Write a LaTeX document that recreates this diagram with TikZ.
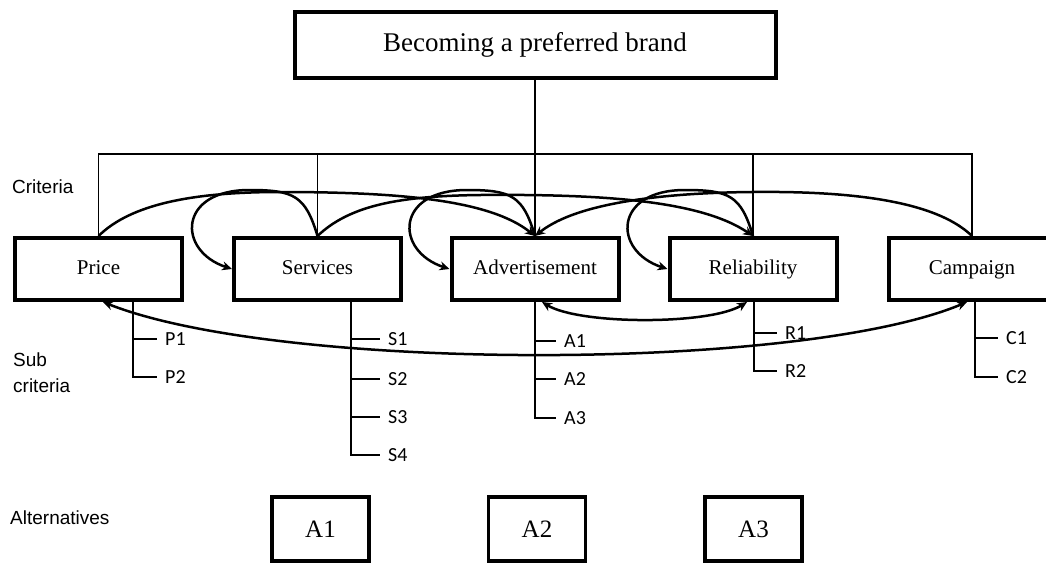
\documentclass[tikz,border=0pt]{standalone}
\usepackage{fontspec}
\setmainfont{Liberation Serif}
\setsansfont{Liberation Sans}
\newfontfamily\subfont{Carlito}
\usetikzlibrary{arrows.meta}

\begin{document}
\begin{tikzpicture}[x=1pt,y=-1pt,
  box/.style={rectangle,draw,line width=4pt,minimum width=167pt,minimum height=62pt,text height=14.5pt,text depth=4pt,font=\fontsize{21}{25}\selectfont},
  altbox/.style={rectangle,draw,line width=3.5pt,minimum width=97pt,minimum height=64pt,font=\fontsize{25}{30}\selectfont},
  lbl/.style={font=\sffamily\fontsize{19}{26}\selectfont,align=left,anchor=west,inner sep=0pt},
  sub/.style={font=\subfont\fontsize{20}{22}\selectfont,anchor=west,inner xsep=8pt,inner ysep=0pt},
  tree/.style={line width=1.3pt},
  dep/.style={line width=2.5pt,-{Stealth[length=10pt,width=9pt]}},
  both/.style={line width=2.5pt,{Stealth[length=10pt,width=9pt]}-{Stealth[length=10pt,width=9pt]}}]
  \useasboundingbox (0,0) rectangle (1046,563);

  \node[box,minimum width=481pt,minimum height=66pt,text height=18pt,text depth=5pt,font=\fontsize{27}{32}\selectfont] (goal) at (535,45) {Becoming a preferred brand};
  \node[box] (price) at (98.5,269) {Price};
  \node[box] (serv) at (317.5,269) {Services};
  \node[box] (adv) at (535,269) {Advertisement};
  \node[box] (rel) at (753,269) {Reliability};
  \node[box] (camp) at (972,269) {Campaign};

  \node[lbl] (crit) at (12,187) {Criteria};
  \node[lbl] (subc) at (13,373) {Sub\\criteria};
  \node[lbl] (alts) at (10,518) {Alternatives};

  \node[altbox] (a1) at (320.5,529) {A1};
  \node[altbox] (a2) at (537,529) {A2};
  \node[altbox] (a3) at (753.5,529) {A3};

  \coordinate (bar) at (535,154);
  \draw[tree] (goal.south) -- (bar);
  \draw[tree] (price.north) |- (bar) -| (camp.north);
  \foreach \n in {serv,adv,rel}
    \draw[tree] (\n.north) -- (\n.north |- bar);

  \node[sub] (p1) at (157,339) {P1};
  \node[sub] (p2) at (157,377) {P2};
  \foreach \y [count=\i] in {339,379,417,455}
    \node[sub] (s\i) at (380,\y) {S\i};
  \foreach \y [count=\i] in {341,379,418}
    \node[sub] (a\i l) at (556,\y) {A\i};
  \node[sub] (r1) at (777,333) {R1};
  \node[sub] (r2) at (777,371) {R2};
  \node[sub] (c1) at (998,338) {C1};
  \node[sub] (c2) at (998,377) {C2};

  \coordinate (pv) at ([xshift=34.5]price.south);
  \coordinate (sv) at ([xshift=33.5]serv.south);
  \coordinate (av) at (adv.south);
  \coordinate (rv) at ([xshift=1]rel.south);
  \coordinate (cv) at ([xshift=3]camp.south);
  \draw[tree] (pv) |- (p2.west);
  \draw[tree] (pv |- p1.west) -- (p1.west);
  \draw[tree] (sv) |- (s4.west);
  \foreach \i in {1,2,3}
    \draw[tree] (sv |- s\i.west) -- (s\i.west);
  \draw[tree] (av) |- (a3l.west);
  \foreach \i in {1,2}
    \draw[tree] (av |- a\i l.west) -- (a\i l.west);
  \draw[tree] (rv) |- (r2.west);
  \draw[tree] (rv |- r1.west) -- (r1.west);
  \draw[tree] (cv) |- (c2.west);
  \draw[tree] (cv |- c1.west) -- (c1.west);

  \draw[dep] (price.north) .. controls (130,205) and (190,192) .. (280,192) .. controls (400,192) and (490,200) .. (adv.north);
  \draw[dep] (serv.north) .. controls (350,205) and (400,196) .. (480,195) .. controls (600,194) and (700,200) .. (rel.north);
  \draw[dep] (camp.north) .. controls (940,205) and (870,193) .. (780,192) .. controls (680,191) and (580,200) .. (adv.north);
  \foreach \n in {serv,adv,rel}
    \draw[dep] (\n.north) .. controls +(-12,-40) and +(45,0) .. ++(-68,-46) .. controls +(-72,0) and +(-55,-18) .. (\n.west);

  \draw[both] ([xshift=7]adv.south) .. controls (580,325) and (710,325) .. ([xshift=-6]rel.south);
  \draw[both] ([xshift=4.5]price.south) .. controls (280,372) and (800,372) .. ([xshift=-5]camp.south);
\end{tikzpicture}
\end{document}
